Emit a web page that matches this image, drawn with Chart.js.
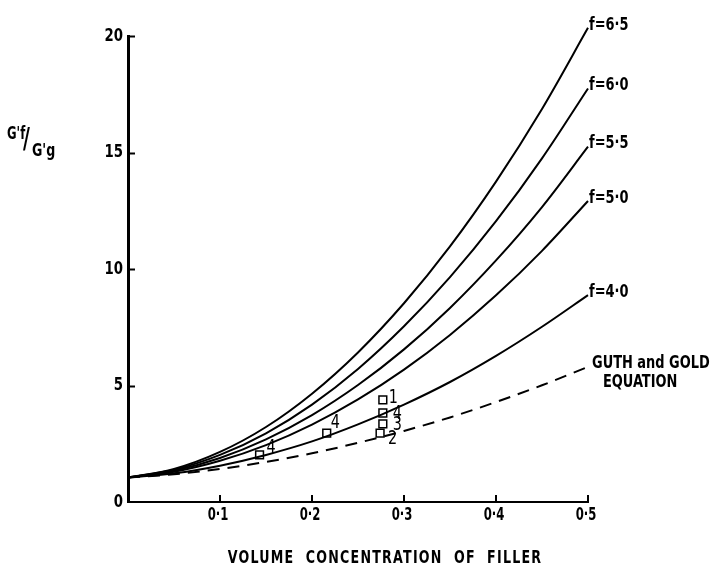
<!DOCTYPE html>
<html>
<head>
<meta charset="utf-8">
<style>
  html, body { margin: 0; padding: 0; background: #fff; }
  #wrap { width: 716px; height: 568px; position: relative; }
</style>
</head>
<body>
<div id="wrap"><canvas id="modulusChart"></canvas></div>

<script src="https://cdn.jsdelivr.net/npm/chart.js"></script>
<script>
// volume concentration of filler (x axis)
const conc = [0, 0.05, 0.1, 0.15, 0.2, 0.25, 0.3, 0.35, 0.4, 0.45, 0.5];

// G'f/G'g
const f65 = [1.05, 1.42, 2.15, 3.22, 4.65, 6.42, 8.53, 10.97, 13.75, 16.87, 20.35];
const f60 = [1.05, 1.38, 2.02, 2.95, 4.18, 5.71, 7.54, 9.65, 12.05, 14.75, 17.75];
const f55 = [1.05, 1.34, 1.89, 2.69, 3.73, 5.02, 6.55, 8.33, 10.37, 12.66, 15.25];
const f50 = [1.05, 1.30, 1.77, 2.44, 3.32, 4.40, 5.68, 7.17, 8.87, 10.78, 12.92];
const f40 = [1.05, 1.23, 1.56, 2.02, 2.60, 3.33, 4.18, 5.15, 6.27, 7.52, 8.88];
const guthGold = [1.05, 1.19, 1.42, 1.72, 2.09, 2.54, 3.05, 3.63, 4.29, 5.01, 5.80];

const curveNames = ["f=6·5", "f=6·0", "f=5·5", "f=5·0", "f=4·0"];

// measured samples (squares)
const ptConc = [0.143, 0.216, 0.277, 0.277, 0.277, 0.274];
const ptValue = [2.02, 2.96, 4.38, 3.82, 3.35, 2.96];
const ptLabel = ["4", "4", "1", "4", "3", "2"];

const yTicks = [0, 5, 10, 15, 20];
const xTicks = [0.1, 0.2, 0.3, 0.4, 0.5];

const FONT = "'DejaVu Sans Condensed', 'Liberation Sans Narrow', sans-serif";

function toXY(ys) {
    return conc.map((c, i) => ({ x: c, y: ys[i] }));
}

function curve(label, ys, dash) {
    return {
        label: label,
        data: toXY(ys),
        showLine: true,
        borderColor: "#000",
        borderWidth: 2,
        borderDash: dash || [],
        pointRadius: 0,
        cubicInterpolationMode: "monotone",
        clip: false
    };
}

// narrow, tall lettering like the original typeset labels
function txt(ctx, s, x, y, size, weight, align, sx, spacing) {
    ctx.save();
    ctx.font = weight + " " + size + "px " + FONT;
    ctx.textAlign = align;
    ctx.letterSpacing = (spacing || 0) + "px";
    ctx.translate(x, y);
    ctx.scale(sx, 1);
    ctx.fillText(s, 0, 0);
    ctx.restore();
}

const decor = {
    id: "decor",
    afterDraw(chart) {
        const ctx = chart.ctx;
        const x = chart.scales.x, y = chart.scales.y;
        const area = chart.chartArea;
        ctx.save();
        ctx.strokeStyle = "#000";
        ctx.fillStyle = "#000";

        // inward tick marks
        ctx.lineWidth = 2;
        yTicks.slice(1).forEach(v => {
            const py = Math.round(y.getPixelForValue(v)) + 0.5;
            ctx.beginPath(); ctx.moveTo(area.left, py); ctx.lineTo(area.left + 7, py); ctx.stroke();
        });
        xTicks.forEach(v => {
            const px = Math.round(x.getPixelForValue(v));
            ctx.beginPath(); ctx.moveTo(px, area.bottom); ctx.lineTo(px, area.bottom - 7); ctx.stroke();
        });

        ctx.textBaseline = "middle";

        // tick labels
        yTicks.forEach(v => {
            txt(ctx, String(v), area.left - 5, y.getPixelForValue(v), 18, "bold", "right", 0.82);
        });
        xTicks.forEach(v => {
            txt(ctx, v.toFixed(1).replace(".", "·"), x.getPixelForValue(v) - 2, area.bottom + 13, 18, "bold", "center", 0.72);
        });

        // curve labels at line ends
        curveNames.forEach((name, i) => {
            const pts = chart.getDatasetMeta(i).data;
            const p = pts[pts.length - 1];
            txt(ctx, name, p.x + 1, p.y - 3, 18, "bold", "left", 0.8);
        });
        const gp = chart.getDatasetMeta(5).data;
        const ge = gp[gp.length - 1];
        txt(ctx, "GUTH and GOLD", ge.x + 4, ge.y - 4, 18, "bold", "left", 0.8);
        txt(ctx, "EQUATION", ge.x + 15, ge.y + 15, 18, "bold", "left", 0.8);

        // sample labels
        const offs = [[7, -7], [4, -10], [6, -2], [10, 1], [10, 1], [8, 6]];
        chart.getDatasetMeta(6).data.forEach((p, i) => {
            txt(ctx, ptLabel[i], p.x + offs[i][0], p.y + offs[i][1], 20, "normal", "left", 0.8);
        });

        // y title  G'f / G'g
        txt(ctx, "G'f", 7, 134, 18, "bold", "left", 0.72);
        txt(ctx, "/", 23, 141, 28, "bold", "left", 0.75);
        txt(ctx, "G'g", 32, 151, 18, "bold", "left", 0.78);

        // x title
        txt(ctx, "VOLUME  CONCENTRATION  OF  FILLER", 385, 558, 18, "bold", "center", 0.78, 1.6);
        ctx.restore();
    }
};

new Chart(document.getElementById("modulusChart"), {
    type: "scatter",
    data: {
        datasets: [
            curve(curveNames[0], f65),
            curve(curveNames[1], f60),
            curve(curveNames[2], f55),
            curve(curveNames[3], f50),
            curve(curveNames[4], f40),
            curve("GUTH and GOLD EQUATION", guthGold, [12, 8]),
            {
                label: "samples",
                data: ptConc.map((c, i) => ({ x: c, y: ptValue[i] })),
                pointStyle: "rect",
                pointRadius: 5.5,
                pointBorderWidth: 1.5,
                pointBackgroundColor: "#fff",
                pointBorderColor: "#000",
                showLine: false
            }
        ]
    },
    options: {
        responsive: true,
        maintainAspectRatio: false,
        animation: false,
        layout: { padding: { top: 36, right: 128, left: 0, bottom: 0 } },
        plugins: { legend: { display: false }, tooltip: { enabled: false } },
        scales: {
            x: {
                type: "linear",
                min: 0, max: 0.5,
                afterFit: s => { s.height = 66; },
                grid: { display: false, drawTicks: false },
                border: { display: true, color: "#000", width: 2 },
                ticks: { display: false }
            },
            y: {
                min: 0, max: 20,
                afterFit: s => { s.width = 128; },
                grid: { display: false, drawTicks: false },
                border: { display: true, color: "#000", width: 3 },
                ticks: { display: false }
            }
        }
    },
    plugins: [decor]
});
</script>
</body>
</html>
